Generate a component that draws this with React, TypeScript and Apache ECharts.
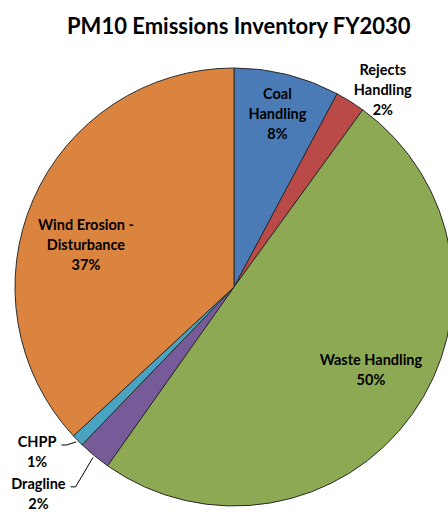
import React, { useEffect, useRef } from 'react';
import * as echarts from 'echarts';

const categories = ['Coal Handling', 'Rejects Handling', 'Waste Handling', 'Dragline', 'CHPP', 'Wind Erosion - Disturbance'];
const labelNames = ['Coal\nHandling', 'Rejects\nHandling', 'Waste Handling', 'Dragline', 'CHPP', 'Wind Erosion -\nDisturbance'];
const values = [7.8, 2.2, 49.8, 2.4, 0.9, 36.9];
const colors = ['#4A7BB6', '#B94A48', '#8DA954', '#765B98', '#4AA3C1', '#DB843F'];

// label placement: angular shift from the slice's mid angle (deg), radial distance (fraction of radius), leader line
const placement = [
  { shift: 0, dist: 0.818, leader: false },
  { shift: 5, dist: 1.128, leader: false },
  { shift: -4.7, dist: 0.729, leader: false },
  { shift: 3.8, dist: 1.3, leader: true },
  { shift: 4.5, dist: 1.173, leader: true },
  { shift: -7.4, dist: 0.704, leader: false },
];

const CX = 234;
const CY = 287;
const R = 219;

export default function App() {
  const ref = useRef<HTMLDivElement>(null);
  useEffect(() => {
    if (!ref.current) return;
    const chart = echarts.init(ref.current, undefined, { renderer: 'svg' });
    const total = values.reduce((a, b) => a + b, 0);
    const mids: number[] = [];
    let acc = 0;
    values.forEach((v) => {
      mids.push(((acc + v / 2) / total) * 360);
      acc += v;
    });
    const polar = (deg: number, dist: number) => {
      const a = (deg * Math.PI) / 180;
      return [CX + dist * R * Math.sin(a), CY - dist * R * Math.cos(a)];
    };
    chart.setOption({
      animation: false,
      title: {
        text: 'PM10 Emissions Inventory FY2030',
        left: 62,
        top: 9,
        textStyle: { fontFamily: 'Lato', fontWeight: 'bold', fontSize: 22, color: '#000' },
      },
      series: [
        {
          type: 'pie',
          center: [CX, CY],
          radius: R,
          startAngle: 90,
          clockwise: true,
          avoidLabelOverlap: false,
          percentPrecision: 0,
          emphasis: { disabled: true },
          itemStyle: { borderColor: '#2b2b2b', borderWidth: 1 },
          label: {
            show: true,
            position: 'outside',
            formatter: (p: any) => `${labelNames[p.dataIndex]}\n${p.percent}%`,
            color: '#000',
            fontFamily: 'Lato',
            fontWeight: 'bold',
            fontSize: 14.5,
            lineHeight: 20,
            align: 'center',
          },
          labelLine: { length: 10, length2: 5, lineStyle: { color: '#000', width: 1 } },
          labelLayout: (params: any) => {
            const i = params.dataIndex;
            const pl = placement[i];
            const [x, y] = polar(mids[i] + pl.shift, pl.dist);
            const res: any = { x, y, align: 'center', verticalAlign: 'middle' };
            if (pl.leader) {
              const w = params.labelRect.width;
              const h = params.labelRect.height;
              const lineCount = 2;
              const firstY = y - h / 2 + h / lineCount / 2 + 3;
              const right = x + w / 2;
              const start = polar(mids[i], 1.01);
              res.labelLinePoints = [start, [right + 10, firstY], [right + 5, firstY]];
            }
            return res;
          },
          data: categories.map((c, i) => ({
            name: c,
            value: values[i],
            itemStyle: { color: colors[i] },
            labelLine: { show: placement[i].leader },
          })),
        },
      ],
    });
    return () => chart.dispose();
  }, []);
  return <div ref={ref} style={{ position: 'absolute', left: 0, top: 0, width: 448, height: 514 }} />;
}
